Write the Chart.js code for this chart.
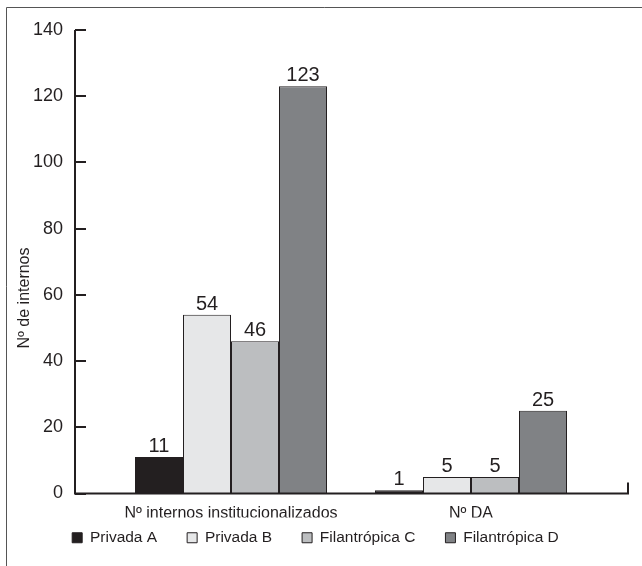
<!DOCTYPE html>
<html>
<head>
<meta charset="utf-8">
<script src="https://cdn.jsdelivr.net/npm/chart.js@4/dist/chart.umd.min.js"></script>
<style>
  html, body { margin: 0; padding: 0; background: #fff; }
  #wrap { position: relative; width: 642px; height: 566px; }
</style>
</head>
<body>
<div id="wrap"><canvas id="c"></canvas></div>
<script>
// data
const categories = ['Nº internos institucionalizados', 'Nº DA'];
const seriesNames = ['Privada A', 'Privada B', 'Filantrópica C', 'Filantrópica D'];
const privadaA = [11, 1];
const privadaB = [54, 5];
const filantropicaC = [46, 5];
const filantropicaD = [123, 25];
const yTicks = [0, 20, 40, 60, 80, 100, 120, 140];
const yTitle = 'Nº de internos';

const INK = '#231f20';
const fills = ['#231f20', '#e6e7e8', '#bcbec0', '#808285'];
const FONT = "'Liberation Sans', Arial, sans-serif";

const seriesData = [privadaA, privadaB, filantropicaC, filantropicaD];

// frame, axis lines, value labels, y title
const decor = {
  id: 'decor',
  afterLayout(chart) {
    // put the legend where the figure has it
    const l = chart.legend;
    l.left += 20;
    l.right += 20;
    l.top = 500;
    l.bottom = l.top + l.height;
  },
  beforeDraw(chart) {
    const c = chart.ctx;
    c.save();
    c.strokeStyle = '#555';
    c.lineWidth = 1;
    c.beginPath();
    c.moveTo(6.5, 566); c.lineTo(6.5, 7.5); c.lineTo(642, 7.5);
    c.stroke();
    c.restore();
  },
  afterDatasetsDraw(chart) {
    const c = chart.ctx;
    const y = chart.scales.y;
    const axX = 75;
    const base = y.getPixelForValue(0);
    c.save();
    c.strokeStyle = INK;
    c.lineWidth = 2;
    c.beginPath();
    c.moveTo(axX, y.getPixelForValue(140));
    c.lineTo(axX, base);
    c.lineTo(628, base);
    c.lineTo(628, base - 11);
    c.stroke();
    yTicks.forEach(v => {
      const py = Math.round(y.getPixelForValue(v));
      c.beginPath();
      c.moveTo(axX, py); c.lineTo(axX + 11, py);
      c.stroke();
    });
    c.fillStyle = INK;
    c.font = '20px ' + FONT;
    c.textAlign = 'center';
    c.textBaseline = 'alphabetic';
    chart.data.datasets.forEach((ds, i) => {
      chart.getDatasetMeta(i).data.forEach((bar, j) => {
        c.fillText(String(ds.data[j]), bar.x, bar.y - 5);
      });
    });
    c.translate(25, 298);
    c.rotate(-Math.PI / 2);
    c.font = '16px ' + FONT;
    c.textBaseline = 'middle';
    c.fillText(yTitle, 0, 0);
    c.restore();
  }
};

new Chart(document.getElementById('c'), {
  type: 'bar',
  data: {
    labels: categories,
    datasets: seriesNames.map((name, i) => ({
      label: name,
      data: seriesData[i],
      backgroundColor: fills[i],
      borderColor: INK,
      borderWidth: 1,
      barPercentage: 1,
      categoryPercentage: 0.8
    }))
  },
  options: {
    responsive: true,
    maintainAspectRatio: false,
    animation: false,
    layout: { padding: { top: 30, right: 51, left: 0, bottom: -7 } },
    plugins: {
      tooltip: { enabled: false },
      legend: {
        position: 'bottom',
        labels: {
          color: INK,
          font: { family: FONT, size: 15.5 },
          boxWidth: 10,
          boxHeight: 10,
          padding: 30,
          generateLabels(chart) {
            return chart.data.datasets.map((ds, i) => ({
              text: ds.label,
              fillStyle: ds.backgroundColor,
              strokeStyle: INK,
              lineWidth: 1,
              fontColor: INK,
              datasetIndex: i
            }));
          }
        }
      }
    },
    scales: {
      x: {
        grid: { display: false },
        border: { display: false },
        ticks: { color: INK, font: { family: FONT, size: 16 }, padding: 2 },
        afterFit(s) { s.height = 24; }
      },
      y: {
        min: 0,
        max: 140,
        grid: { display: false },
        border: { display: false },
        afterBuildTicks(s) { s.ticks = yTicks.map(v => ({ value: v })); },
        ticks: { color: INK, font: { family: FONT, size: 18 }, padding: 40 },
        afterFit(s) {
          s.width = 111;
          // tick padding would otherwise push the plot top down
          s.paddingTop = 0;
          s.paddingBottom = 0;
        }
      }
    }
  },
  plugins: [decor]
});
</script>
</body>
</html>
